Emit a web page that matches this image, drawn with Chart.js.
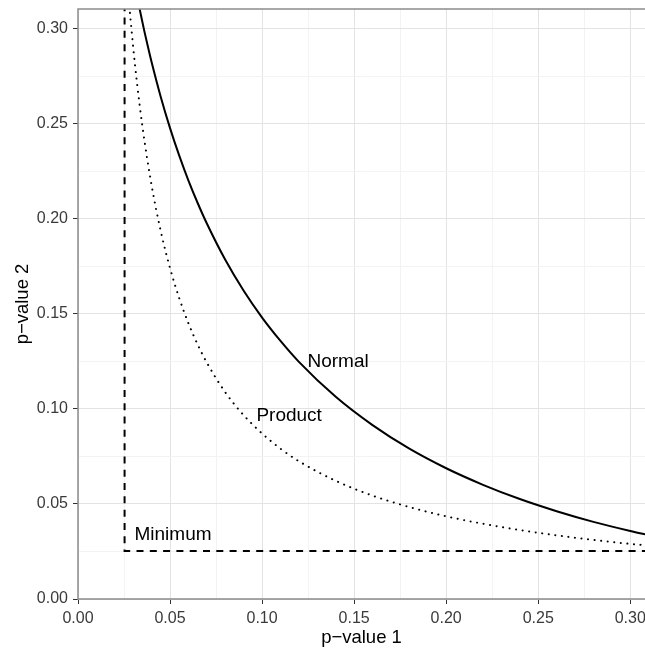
<!DOCTYPE html>
<html>
<head>
<meta charset="utf-8">
<title>p-value combination</title>
<script src="https://cdn.jsdelivr.net/npm/chart.js@4.4.1/dist/chart.umd.min.js"></script>
<style>
  html, body { margin: 0; padding: 0; background: #fff; }
  #wrap { width: 645px; height: 650px; position: relative; }
</style>
</head>
<body>
<div id="wrap"><canvas id="myChart"></canvas></div>

<script type="text/javascript">
// rejection boundaries
var normalP1 = [0.033, 0.034, 0.036, 0.038, 0.040, 0.045, 0.050, 0.055, 0.060, 0.065, 0.070, 0.080, 0.090, 0.100, 0.110, 0.120, 0.140, 0.160, 0.180, 0.200, 0.220, 0.240, 0.260, 0.280, 0.300, 0.310];
var normalP2 = [0.3128, 0.3081, 0.2990, 0.2906, 0.2825, 0.2641, 0.2478, 0.2333, 0.2202, 0.2084, 0.1976, 0.1785, 0.1622, 0.1481, 0.1358, 0.1248, 0.1064, 0.0915, 0.0791, 0.0688, 0.0601, 0.0526, 0.0462, 0.0406, 0.0358, 0.0336];

var productP1 = [0.027, 0.028, 0.030, 0.032, 0.035, 0.040, 0.045, 0.050, 0.055, 0.060, 0.065, 0.070, 0.080, 0.090, 0.100, 0.110, 0.120, 0.140, 0.160, 0.180, 0.200, 0.220, 0.240, 0.260, 0.280, 0.300, 0.310];
var productP2 = [0.3224, 0.3109, 0.2902, 0.2720, 0.2487, 0.2176, 0.1934, 0.1741, 0.1583, 0.1451, 0.1339, 0.1244, 0.1088, 0.0967, 0.0871, 0.0791, 0.0725, 0.0622, 0.0544, 0.0484, 0.0435, 0.0396, 0.0363, 0.0335, 0.0311, 0.0290, 0.0281];

var minimumP1 = [0.0253, 0.0253, 0.320];
var minimumP2 = [0.320, 0.0253, 0.0253];

var labelText = ['Normal', 'Product', 'Minimum'];
var labelX = [0.1413, 0.1147, 0.0516];
var labelY = [0.1247, 0.0963, 0.0337];

var xTicks = [0, 0.025, 0.05, 0.075, 0.10, 0.125, 0.15, 0.175, 0.20, 0.225, 0.25, 0.275, 0.30];
var yTicks = [0, 0.025, 0.05, 0.075, 0.10, 0.125, 0.15, 0.175, 0.20, 0.225, 0.25, 0.275, 0.30];

function pts(xs, ys) {
    var out = [];
    for (var i = 0; i < xs.length; i++) out.push({x: xs[i], y: ys[i]});
    return out;
}
function isMajor(v) {
    return Math.abs(Math.round(v * 20) - v * 20) < 1e-6;
}

var FONT = "'Liberation Sans', Arial, Helvetica, sans-serif";

// panel border (left, top, bottom) and the text annotations
var panelPlugin = {
    id: 'panel',
    afterDatasetsDraw: function(chart) {
        var c = chart.ctx, a = chart.chartArea;
        var xs = chart.scales.x, ys = chart.scales.y;
        c.save();
        c.fillStyle = '#000';
        c.font = '19px ' + FONT;
        c.textAlign = 'center';
        c.textBaseline = 'middle';
        for (var i = 0; i < labelText.length; i++) {
            c.fillText(labelText[i], xs.getPixelForValue(labelX[i]), ys.getPixelForValue(labelY[i]));
        }
        c.strokeStyle = '#8c8c8c';
        c.lineWidth = 1.5;
        c.beginPath();
        c.moveTo(a.right + 2, a.top);
        c.lineTo(a.left, a.top);
        c.lineTo(a.left, a.bottom);
        c.lineTo(a.right + 2, a.bottom);
        c.stroke();
        c.restore();
    }
};

function gridColor(ctx) {
    if (!ctx.tick) return 'transparent';
    return isMajor(ctx.tick.value) ? '#e3e3e3' : '#f3f3f3';
}
function tickColor(ctx) {
    if (!ctx.tick) return 'transparent';
    return isMajor(ctx.tick.value) ? '#333' : 'transparent';
}

var config = {
    type: 'scatter',
    data: {
        datasets: [
            {
                label: 'Normal',
                data: pts(normalP1, normalP2),
                showLine: true,
                borderColor: '#000',
                borderWidth: 2,
                pointRadius: 0,
                cubicInterpolationMode: 'monotone'
            },
            {
                label: 'Product',
                data: pts(productP1, productP2),
                showLine: true,
                borderColor: '#000',
                borderWidth: 2,
                borderDash: [0.1, 6.5],
                borderCapStyle: 'round',
                pointRadius: 0,
                cubicInterpolationMode: 'monotone'
            },
            {
                label: 'Minimum',
                data: pts(minimumP1, minimumP2),
                showLine: true,
                borderColor: '#000',
                borderWidth: 2,
                borderDash: [7, 6.3],
                pointRadius: 0,
                tension: 0
            }
        ]
    },
    options: {
        responsive: true,
        maintainAspectRatio: false,
        animation: false,
        layout: { padding: { top: 9, left: 0, right: 0, bottom: 0 } },
        plugins: {
            legend: { display: false },
            tooltip: { enabled: false }
        },
        scales: {
            x: {
                type: 'linear',
                min: 0,
                max: 0.308,
                afterBuildTicks: function(scale) {
                    scale.ticks = xTicks.map(function(v) { return {value: v}; });
                },
                afterFit: function(scale) {
                    scale.height = 51;
                    scale.paddingLeft = 0;
                    scale.paddingRight = 0;
                },
                ticks: {
                    color: '#3a3a3a',
                    font: { family: FONT, size: 16 },
                    padding: 5,
                    maxRotation: 0,
                    autoSkip: false,
                    callback: function(v) { return isMajor(v) ? v.toFixed(2) : ''; }
                },
                grid: {
                    color: gridColor,
                    tickColor: tickColor,
                    tickLength: 5,
                    lineWidth: 1
                },
                border: { display: false },
                title: {
                    display: true,
                    text: 'p\u2212value 1',
                    color: '#000',
                    font: { family: FONT, size: 18.5 },
                    padding: { top: 0, bottom: 1 }
                }
            },
            y: {
                type: 'linear',
                min: 0,
                max: 0.3105,
                afterBuildTicks: function(scale) {
                    scale.ticks = yTicks.map(function(v) { return {value: v}; });
                },
                afterFit: function(scale) {
                    scale.width = 78;
                    scale.paddingTop = 0;
                    scale.paddingBottom = 0;
                },
                ticks: {
                    color: '#3a3a3a',
                    font: { family: FONT, size: 16 },
                    padding: 5,
                    autoSkip: false,
                    callback: function(v) { return isMajor(v) ? v.toFixed(2) : ''; }
                },
                grid: {
                    color: gridColor,
                    tickColor: tickColor,
                    tickLength: 5,
                    lineWidth: 1
                },
                border: { display: false },
                title: {
                    display: true,
                    text: 'p\u2212value 2',
                    color: '#000',
                    font: { family: FONT, size: 18.5 },
                    padding: { top: 12, bottom: 0 }
                }
            }
        }
    },
    plugins: [panelPlugin]
};

var ctx = document.getElementById('myChart');
var chart = new Chart(ctx, config);
</script>
</body>
</html>
